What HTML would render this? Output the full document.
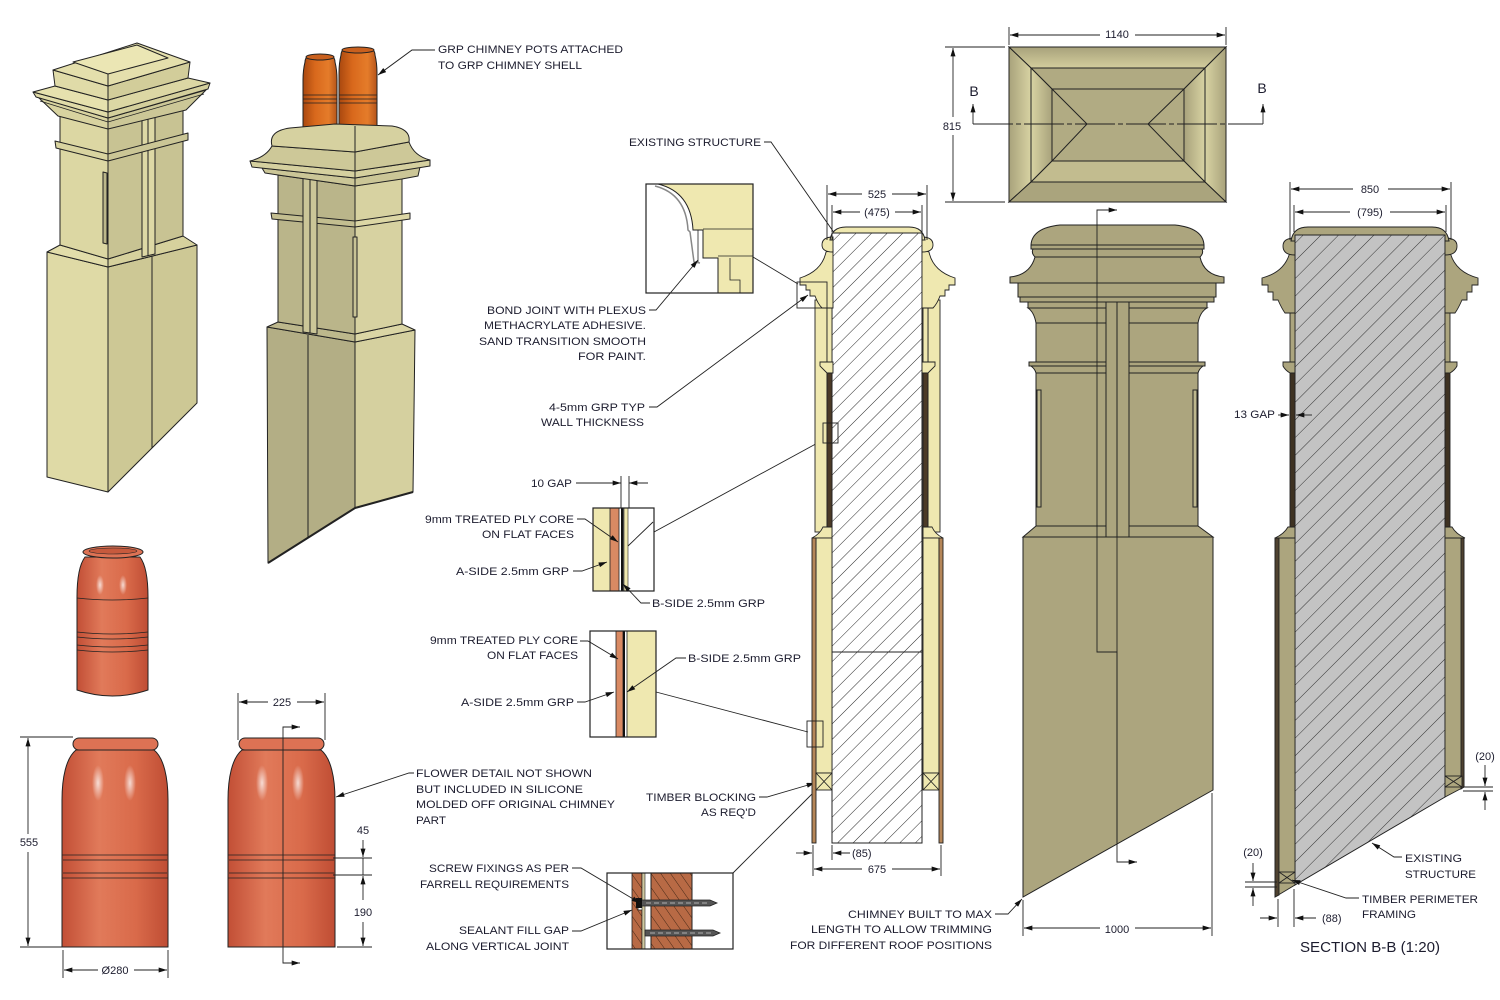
<!DOCTYPE html>
<html><head><meta charset="utf-8"><style>
html,body{margin:0;padding:0;background:#fff;}
svg{display:block;}
text{font-family:"Liberation Sans",Arial,sans-serif;font-size:11px;fill:#1c1c2e;}
.c{text-anchor:middle;}
</style></head><body>
<svg width="1500" height="1000" viewBox="0 0 1500 1000" xmlns="http://www.w3.org/2000/svg">
<defs>
<marker id="ar" viewBox="0 0 10 6" refX="10" refY="3" markerWidth="9" markerHeight="5" markerUnits="userSpaceOnUse" orient="auto-start-reverse"><path d="M0,0 L10,3 L0,6 Z" fill="#111"/></marker>
<pattern id="hA" width="11" height="11" patternUnits="userSpaceOnUse" patternTransform="rotate(45)"><line x1="0" y1="0" x2="0" y2="11" stroke="#2a2a2a" stroke-width="1"/></pattern>
<pattern id="hB" width="12.5" height="12.5" patternUnits="userSpaceOnUse" patternTransform="rotate(45)"><line x1="0" y1="0" x2="0" y2="12.5" stroke="#333" stroke-width="1"/></pattern>
<pattern id="hC" width="8" height="8" patternUnits="userSpaceOnUse" patternTransform="rotate(-35)"><line x1="0" y1="0" x2="0" y2="8" stroke="#3a2010" stroke-width="0.9"/></pattern>
<linearGradient id="pg" x1="0" x2="1" y1="0" y2="0"><stop offset="0" stop-color="#c24f36"/><stop offset="0.35" stop-color="#e17a5a"/><stop offset="0.7" stop-color="#d96a4a"/><stop offset="1" stop-color="#bf4d34"/></linearGradient>
<linearGradient id="tp" x1="0" x2="1" y1="0" y2="0"><stop offset="0" stop-color="#a9480f"/><stop offset="0.35" stop-color="#d8681c"/><stop offset="0.75" stop-color="#e57c2a"/><stop offset="1" stop-color="#b5541a"/></linearGradient>
<linearGradient id="gT" x1="0" x2="0" y1="0" y2="1"><stop offset="0" stop-color="#a8a27b"/><stop offset="1" stop-color="#d3cd9d"/></linearGradient>
<linearGradient id="gL" x1="0" x2="1" y1="0" y2="0"><stop offset="0" stop-color="#a8a27b"/><stop offset="1" stop-color="#d8d3a3"/></linearGradient>
<linearGradient id="gR" x1="0" x2="1" y1="0" y2="0"><stop offset="0" stop-color="#d8d3a3"/><stop offset="1" stop-color="#a8a27b"/></linearGradient>
<radialGradient id="hl"><stop offset="0" stop-color="#fff" stop-opacity="0.75"/><stop offset="1" stop-color="#fff" stop-opacity="0"/></radialGradient>
</defs>
<rect width="1500" height="1000" fill="#fff"/>

<!-- ============ ISO 1 ============ -->
<g stroke="#222" stroke-width="1" stroke-linejoin="round">
 <polygon points="47,252 108,267 108,492 47,477" fill="#dfdaa6"/>
 <polygon points="108,267 197,245 197,403 108,492" fill="#cdc895"/>
 <line x1="152" y1="256" x2="152" y2="448"/>
 <polygon points="60,245 108,259 108,267 47,252" fill="#e2ddaa"/>
 <polygon points="108,259 183,236 197,245 108,267" fill="#d6d19d"/>
 <polygon points="60,115 108,128 108,259 60,245" fill="#dcd7a3"/>
 <polygon points="108,128 183,108 183,236 108,259" fill="#c8c393"/>
 <polygon points="142,112 155,109 155,254 142,257" fill="#ddd8a5"/>
 <line x1="148" y1="111" x2="148" y2="256"/>
 <polygon points="103,172 107,173 107,244 103,243" fill="#bcb78a"/>
 <polygon points="55,141 108,154 108,161 56,148" fill="#d9d4a0"/>
 <polygon points="108,154 188,133 188,140 108,161" fill="#cbc696"/>
 <polygon points="38,97 108,118 108,129 58,116" fill="#d8d3a0"/>
 <polygon points="108,118 206,90 186,110 108,129" fill="#ccc797"/>
 <polygon points="33,92 108,112 108,118 36,97" fill="#e0dba8"/>
 <polygon points="108,112 210,83 208,89 108,118" fill="#d4cf9c"/>
 <polygon points="55,86 108,100 108,112 33,92" fill="#e6e1ae"/>
 <polygon points="108,100 188,78 210,83 108,112" fill="#dcd7a4"/>
 <polygon points="53,70 108,86 108,100 55,86" fill="#e0dba8"/>
 <polygon points="108,86 190,62 188,78 108,100" fill="#d2cd9a"/>
 <polygon points="53,70 137,43 190,62 108,86" fill="#e4dfac"/>
 <polygon points="73,62 137,45 168,58 108,74" fill="#ebe6b4"/>
 <line x1="108" y1="74" x2="108" y2="86"/>
 <line x1="40" y1="101" x2="108" y2="122" stroke-width="0.7"/>
 <line x1="108" y1="122" x2="204" y2="94" stroke-width="0.7"/>
</g>

<!-- ============ ISO 2 ============ -->
<g stroke="#222" stroke-width="1" stroke-linejoin="round">
 <path d="M305,62 Q305,56 312,55 L328,55 Q335,56 335,62 Q337,70 337,80 L337,130 L303,130 L303,80 Q303,70 305,62 Z" fill="url(#tp)"/>
 <ellipse cx="320" cy="57" rx="14" ry="3" fill="#c9601e"/>
 <path d="M341,55 Q341,49 348,48 L368,48 Q375,49 375,55 Q377,63 377,73 L377,130 L339,130 L339,73 Q339,63 341,55 Z" fill="url(#tp)"/>
 <ellipse cx="358" cy="50" rx="16" ry="3" fill="#c9601e"/>
 <path d="M303,95 H337 M303,99 H337 M303,103 H337 M339,95 H377 M339,99 H377 M339,103 H377" stroke-width="0.8"/>
 <polygon points="267,327 355,342 355,508 268,563" fill="#b3ae85"/>
 <polygon points="355,342 415,330 413,492 355,508" fill="#d5d09f"/>
 <polyline points="268,563 355,508 413,492" fill="none" stroke-width="2"/>
 <line x1="308" y1="335" x2="308" y2="537"/>
 <polygon points="278,322 355,334 355,342 267,327" fill="#bdb88c"/>
 <polygon points="355,334 402,324 415,330 355,342" fill="#dbd6a5"/>
 <polygon points="278,175 355,186 355,334 278,322" fill="#bab58a"/>
 <polygon points="355,186 402,178 402,324 355,334" fill="#d7d2a1"/>
 <polygon points="271,213 355,221 355,227 272,219" fill="#c3be90"/>
 <polygon points="355,221 410,213 410,219 355,227" fill="#dcd7a5"/>
 <polygon points="303,178 317,180 317,334 303,332" fill="#cbc698"/>
 <line x1="310" y1="179" x2="310" y2="333"/>
 <rect x="353" y="237" width="4" height="80" fill="#c8c395"/>
 <polygon points="262,168 355,178 420,167 418,176 402,179 355,186 278,175 265,173" fill="#cbc697"/>
 <polygon points="250,161 355,171 430,160 430,166 355,178 252,167" fill="#d5d09f"/>
 <path d="M272,146 L355,152 L409,142 Q414,156 430,160 L355,171 L250,161 Q266,157 272,146 Z" fill="#cdc898"/>
 <path d="M272,146 Q268,131 290,128 L335,124 L392,126 Q411,129 409,142 L355,152 Z" fill="#d6d1a0"/>
 <line x1="355" y1="126" x2="355" y2="186"/>
</g>
<path d="M435,50 H412 L378,75" fill="none" stroke="#222" marker-end="url(#ar)"/>
<text x="438" y="53" textLength="185" lengthAdjust="spacingAndGlyphs">GRP CHIMNEY POTS ATTACHED</text>
<text x="438" y="69" textLength="144" lengthAdjust="spacingAndGlyphs">TO GRP CHIMNEY SHELL</text>

<!-- ============ POTS ============ -->
<g stroke="#222" stroke-width="1">
 <path d="M85,557 C79,565 77,580 77,597 L77,690 Q112,702 148,690 L148,597 C148,580 146,565 140,557 Z" fill="url(#pg)"/>
 <ellipse cx="113" cy="552" rx="30" ry="6" fill="#dd7254"/>
 <ellipse cx="113" cy="551" rx="24" ry="3" fill="#c75a3d" stroke-width="0.6"/>
 <path d="M77,598 Q112,602 148,598 M77,632 Q112,636 148,632 M77,637 Q112,641 148,637 M77,645 Q112,649 148,645 M77,650 Q112,654 148,650" fill="none" stroke-width="0.8"/>
 <path d="M76,750 C66,758 62,778 62,800 L62,947 L168,947 L168,800 C168,778 164,758 154,750 Z" fill="url(#pg)"/>
 <rect x="73" y="738" width="85" height="12" rx="6" fill="#dd7254"/>
 <path d="M62,855 H168 M63,860 H167 M63,873 H167 M62,878 H168" fill="none" stroke-width="0.8"/>
 <path d="M242,750 C232,758 228,778 228,800 L228,947 L335,947 L335,800 C335,778 331,758 321,750 Z" fill="url(#pg)"/>
 <rect x="239" y="738" width="85" height="12" rx="6" fill="#dd7254"/>
 <path d="M228,855 H335 M229,860 H334 M229,873 H334 M228,878 H335" fill="none" stroke-width="0.8"/>
</g>
<ellipse cx="100" cy="585" rx="4" ry="10" fill="url(#hl)"/>
<ellipse cx="123" cy="585" rx="4" ry="10" fill="url(#hl)"/>
<ellipse cx="98" cy="783" rx="6" ry="18" fill="url(#hl)"/>
<ellipse cx="130" cy="783" rx="6" ry="18" fill="url(#hl)"/>
<ellipse cx="262" cy="783" rx="6" ry="18" fill="url(#hl)"/>
<ellipse cx="298" cy="783" rx="6" ry="18" fill="url(#hl)"/>
<g stroke="#222" stroke-width="0.9" fill="none">
 <path d="M20,737 H73 M20,947 H62"/>
 <path d="M28,834 V738" marker-end="url(#ar)"/><path d="M28,852 V946" marker-end="url(#ar)"/>
 <path d="M63,950 V978 M168,950 V978"/>
 <path d="M98,970 H64" marker-end="url(#ar)"/><path d="M134,970 H167" marker-end="url(#ar)"/>
 <path d="M238,693 V740 M325,693 V740"/>
 <path d="M268,702 H239" marker-end="url(#ar)"/><path d="M297,702 H324" marker-end="url(#ar)"/>
 <path d="M300,727 H283 V963 H300" marker-start="url(#ar)" marker-end="url(#ar)"/>
 <path d="M333,858 H372 M333,875 H372 M337,947 H372"/>
 <path d="M363,840 V857" marker-end="url(#ar)"/><path d="M363,858 V875"/>
 <path d="M363,900 V876" marker-end="url(#ar)"/><path d="M363,922 V946" marker-end="url(#ar)"/>
 <path d="M414,773 H409 L336,797" marker-end="url(#ar)"/>
</g>
<text class="c" x="29" y="846">555</text>
<text class="c" x="115" y="974">Ø280</text>
<text class="c" x="282" y="706">225</text>
<text class="c" x="363" y="834">45</text>
<text class="c" x="363" y="916">190</text>
<text x="416" y="777" textLength="176" lengthAdjust="spacingAndGlyphs">FLOWER DETAIL NOT SHOWN</text>
<text x="416" y="793" textLength="167" lengthAdjust="spacingAndGlyphs">BUT INCLUDED IN SILICONE</text>
<text x="416" y="808" textLength="199" lengthAdjust="spacingAndGlyphs">MOLDED OFF ORIGINAL CHIMNEY</text>
<text x="416" y="824" textLength="30" lengthAdjust="spacingAndGlyphs">PART</text>

<!-- ============ DETAIL BOXES ============ -->
<g stroke="#222" stroke-width="1">
 <rect x="646" y="184" width="107" height="109" fill="#fff"/>
 <path d="M658,184 H753 V293 H718 V258 H703 V230 H693 Q691,192 658,184 Z" fill="#efe8b0"/>
 <path d="M655,186 Q686,194 688,230 L690,232 L694,262 L700,263" fill="none" stroke="#888" stroke-width="1.5"/>
 <path d="M703,229 H753 M718,256 H753 M730,258 V280 H740 V293 M698,230 V262" fill="none" stroke-width="0.8"/>
 <rect x="646" y="184" width="107" height="109" fill="none" stroke-width="1.2"/>

 <rect x="593" y="508" width="61" height="83" fill="#fff"/>
 <rect x="593" y="508" width="17" height="83" fill="#efe8b0" stroke="none"/>
 <rect x="610" y="508" width="9" height="83" fill="#d98a63" stroke-width="0.8"/>
 <rect x="621" y="508" width="2.5" height="83" fill="#111" stroke="none"/>
 <rect x="624" y="508" width="4" height="83" fill="#efe8b0" stroke-width="0.6"/>
 <rect x="593" y="508" width="61" height="83" fill="none" stroke-width="1.2"/>

 <rect x="590" y="631" width="66" height="106" fill="#fff"/>
 <rect x="616" y="631" width="7" height="106" fill="#d98a63" stroke-width="0.8"/>
 <rect x="623" y="631" width="2" height="106" fill="#111" stroke="none"/>
 <rect x="627" y="631" width="29" height="106" fill="#efe8b0" stroke-width="0.8"/>
 <rect x="590" y="631" width="66" height="106" fill="none" stroke-width="1.2"/>

 <rect x="607" y="873" width="126" height="76" fill="#fff"/>
 <path d="M632,873 H642 V906 H638 V910 H642 V949 H632 Z" fill="#b86a45" stroke-width="0.8"/>
 <path d="M632,873 H642 V906 H638 V910 H642 V949 H632 Z" fill="url(#hC)" stroke="none"/>
 <rect x="642" y="873" width="3" height="76" fill="#cfc9a0" stroke-width="0.6"/>
 <rect x="651" y="873" width="41" height="76" fill="#b86a45"/>
 <rect x="651" y="873" width="41" height="76" fill="url(#hC)" stroke="none"/>
 <path d="M641,900 H710 L717,903 L710,906 H641 Z" fill="#555" stroke-width="0.8"/>
 <path d="M645,930 H713 L720,933 L713,936 H645 Z" fill="#555" stroke-width="0.8"/>
 <path d="M646,903 H708 M650,933 H711" stroke="#ccc" stroke-dasharray="5,3" stroke-width="0.8"/>
 <rect x="636" y="898" width="6" height="10" fill="#111" stroke="none"/>
 <rect x="607" y="873" width="126" height="76" fill="none" stroke-width="1.2"/>
</g>
<g stroke="#222" stroke-width="0.9" fill="none">
 <path d="M649,310 H656 L698,260" marker-end="url(#ar)"/>
 <path d="M753,257 L798,284"/>
 <path d="M649,407 H657 L808,295" marker-end="url(#ar)"/>
 <path d="M576,483 H621" marker-end="url(#ar)"/><path d="M648,483 H629" marker-end="url(#ar)"/>
 <path d="M621,476 V508 M629,476 V508"/>
 <path d="M577,519 H585 L618,542" marker-end="url(#ar)"/>
 <path d="M573,571 H582 L607,562" marker-end="url(#ar)"/>
 <path d="M650,603 H641 L623,584" marker-end="url(#ar)"/>
 <path d="M654,532 L823,440 M653,522 L628,546"/>
 <path d="M580,641 H588 L618,659" marker-end="url(#ar)"/>
 <path d="M577,702 H585 L614,692" marker-end="url(#ar)"/>
 <path d="M686,658 H676 L627,692" marker-end="url(#ar)"/>
 <path d="M656,692 L808,732"/>
 <path d="M759,797 H767 L815,783" marker-end="url(#ar)"/>
 <path d="M733,873 L813,793"/>
 <path d="M572,868 H581 L640,903" marker-end="url(#ar)"/>
 <path d="M572,931 H581 L632,910" marker-end="url(#ar)"/>
 <path d="M764,142 H771 L860,270" marker-end="url(#ar)"/>
</g>
<text x="629" y="146" textLength="132" lengthAdjust="spacingAndGlyphs">EXISTING STRUCTURE</text>
<text x="487" y="314" textLength="159" lengthAdjust="spacingAndGlyphs">BOND JOINT WITH PLEXUS</text>
<text x="484" y="329" textLength="162" lengthAdjust="spacingAndGlyphs">METHACRYLATE ADHESIVE.</text>
<text x="479" y="345" textLength="167" lengthAdjust="spacingAndGlyphs">SAND TRANSITION SMOOTH</text>
<text x="578" y="360" textLength="68" lengthAdjust="spacingAndGlyphs">FOR PAINT.</text>
<text x="549" y="411" textLength="96" lengthAdjust="spacingAndGlyphs">4-5mm GRP TYP</text>
<text x="541" y="426" textLength="103" lengthAdjust="spacingAndGlyphs">WALL THICKNESS</text>
<text x="531" y="487" textLength="41" lengthAdjust="spacingAndGlyphs">10 GAP</text>
<text x="425" y="523" textLength="149" lengthAdjust="spacingAndGlyphs">9mm TREATED PLY CORE</text>
<text x="482" y="538" textLength="92" lengthAdjust="spacingAndGlyphs">ON FLAT FACES</text>
<text x="456" y="575" textLength="113" lengthAdjust="spacingAndGlyphs">A-SIDE 2.5mm GRP</text>
<text x="652" y="607" textLength="113" lengthAdjust="spacingAndGlyphs">B-SIDE 2.5mm GRP</text>
<text x="430" y="644" textLength="148" lengthAdjust="spacingAndGlyphs">9mm TREATED PLY CORE</text>
<text x="487" y="659" textLength="91" lengthAdjust="spacingAndGlyphs">ON FLAT FACES</text>
<text x="688" y="662" textLength="113" lengthAdjust="spacingAndGlyphs">B-SIDE 2.5mm GRP</text>
<text x="461" y="706" textLength="113" lengthAdjust="spacingAndGlyphs">A-SIDE 2.5mm GRP</text>
<text x="646" y="801" textLength="110" lengthAdjust="spacingAndGlyphs">TIMBER BLOCKING</text>
<text x="701" y="816" textLength="55" lengthAdjust="spacingAndGlyphs">AS REQ'D</text>
<text x="429" y="872" textLength="140" lengthAdjust="spacingAndGlyphs">SCREW FIXINGS AS PER</text>
<text x="420" y="888" textLength="149" lengthAdjust="spacingAndGlyphs">FARRELL REQUIREMENTS</text>
<text x="459" y="934" textLength="110" lengthAdjust="spacingAndGlyphs">SEALANT FILL GAP</text>
<text x="426" y="950" textLength="143" lengthAdjust="spacingAndGlyphs">ALONG VERTICAL JOINT</text>

<!-- ============ SECTION A ============ -->
<rect x="832" y="233" width="90" height="610" fill="#fff"/>
<rect x="832" y="233" width="90" height="610" fill="url(#hA)" stroke="#222"/>
<line x1="832" y1="652" x2="922" y2="652" stroke="#222"/>
<g id="secAL" stroke="#222" stroke-width="0.9">
 <rect x="815" y="300" width="12" height="232" fill="#efe8b0"/>
 <rect x="827" y="300" width="5" height="73" fill="#efe8b0"/>
 <rect x="827" y="373" width="5" height="155" fill="#4b3a26"/>
 <path d="M820,362 H833 V373 H827 Q823,369 820,366 Z" fill="#efe8b0"/>
 <path d="M823,527 H832 V538 H812 Q820,534 823,527 Z" fill="#efe8b0"/>
 <rect x="816" y="538" width="16" height="235" fill="#efe8b0"/>
 <rect x="812" y="538" width="4" height="305" fill="#b58658"/>
 <rect x="816" y="773" width="16" height="17" fill="#efe8b0"/>
 <path d="M816,773 L832,790 M832,773 L816,790" fill="none"/>
 <path d="M833,250 L826,252 Q822,271 800,278 V285 H806 V290 H810 V296 H815 Q818,304 822,308 H833 Z" fill="#efe8b0"/>
 <path d="M833,237 Q822,237 822,245 Q822,252 833,252 Z" fill="#efe8b0"/>
</g>
<use href="#secAL" transform="translate(1755,0) scale(-1,1)"/>
<path d="M830,240 Q832,227 846,227 H909 Q923,227 925,240 H922 V233 H832 V240 Z" fill="#efe8b0" stroke="#222"/>
<g stroke="#222" stroke-width="0.9" fill="none">
 <rect x="797" y="282" width="30" height="26"/>
 <rect x="823" y="423" width="15" height="20"/>
 <rect x="807" y="721" width="16" height="26"/>
 <path d="M827,185 V240 M927,185 V240 M832,205 V232 M922,205 V232"/>
 <path d="M862,194 H828" marker-end="url(#ar)"/><path d="M892,194 H926" marker-end="url(#ar)"/>
 <path d="M860,212 H833" marker-end="url(#ar)"/><path d="M895,212 H921" marker-end="url(#ar)"/>
 <path d="M813,845 V876 M832,845 V860 M941,845 V876"/>
 <path d="M796,853 H812" marker-end="url(#ar)"/><path d="M850,853 H833" marker-end="url(#ar)"/>
 <path d="M862,869 H814" marker-end="url(#ar)"/><path d="M892,869 H940" marker-end="url(#ar)"/>
</g>
<text class="c" x="877" y="198">525</text>
<text class="c" x="877" y="216">(475)</text>
<text x="852" y="857">(85)</text>
<text class="c" x="877" y="873">675</text>

<!-- ============ PLAN ============ -->
<g stroke="#222" stroke-width="1">
 <rect x="1009" y="47" width="217" height="155" fill="#aca57e"/>
 <polygon points="1009,47 1226,47 1205,68 1031,68" fill="url(#gT)"/>
 <polygon points="1009,47 1031,68 1031,182 1009,202" fill="url(#gL)"/>
 <polygon points="1226,47 1205,68 1205,182 1226,202" fill="url(#gR)"/>
 <polygon points="1009,202 1031,182 1205,182 1226,202" fill="#aaa47d"/>
 <rect x="1031" y="68" width="174" height="114" fill="#b7b188"/>
 <polygon points="1031,68 1205,68 1184,89 1052,89" fill="#b0aa82"/>
 <polygon points="1031,68 1052,89 1052,161 1031,182" fill="url(#gR)"/>
 <polygon points="1205,68 1184,89 1184,161 1205,182" fill="url(#gL)"/>
 <polygon points="1031,182 1052,161 1184,161 1205,182" fill="#c2bc8f"/>
 <rect x="1052" y="89" width="132" height="72" fill="#b1ab83"/>
 <path d="M1052,89 L1087,124 L1052,161 M1184,89 L1148,124 L1184,161" fill="none"/>
</g>
<g stroke="#222" stroke-width="0.9" fill="none">
 <path d="M1009,27 V45 M1226,27 V45"/>
 <path d="M1100,35 H1010" marker-end="url(#ar)"/><path d="M1135,35 H1225" marker-end="url(#ar)"/>
 <path d="M945,47 H1005 M945,202 H1005"/>
 <path d="M953,117 V48" marker-end="url(#ar)"/><path d="M953,135 V201" marker-end="url(#ar)"/>
 <path d="M973,124 H1263" stroke-dasharray="40,3,5,3"/>
 <path d="M973,124 V104" marker-end="url(#ar)"/><path d="M1263,124 V104" marker-end="url(#ar)"/>
</g>
<text class="c" x="1117" y="38">1140</text>
<text class="c" x="952" y="130">815</text>
<text class="c" x="974" y="96" style="font-size:14px">B</text>
<text class="c" x="1262" y="93" style="font-size:14px">B</text>

<!-- ============ FRONT ELEVATION ============ -->
<g stroke="#222" stroke-width="1" fill="#aca57e">
 <path d="M1023,537 H1213 V790 L1023,897 Z"/>
 <path d="M1036,526 H1198 L1213,537 H1023 Z"/>
 <rect x="1036" y="373" width="162" height="153"/>
 <rect x="1037" y="390" width="4" height="117" fill="#bdb78d"/>
 <rect x="1193" y="390" width="4" height="117" fill="#bdb78d"/>
 <path d="M1031,366 H1203 Q1199,369 1198,373 H1036 Q1035,369 1031,366 Z"/>
 <rect x="1029" y="362" width="176" height="4"/>
 <rect x="1036" y="323" width="162" height="39"/>
 <path d="M1028,308 H1207 Q1200,312 1198,323 H1036 Q1034,312 1028,308 Z"/>
 <rect x="1028" y="302" width="179" height="6"/>
 <rect x="1020" y="297" width="194" height="5"/>
 <rect x="1018" y="283" width="198" height="14"/>
 <path d="M1035,257 H1200 Q1204,275 1224,277 V283 H1010 V277 Q1030,275 1035,257 Z"/>
 <path d="M1033,249 H1202 Q1204,253 1200,257 H1035 Q1031,253 1033,249 Z"/>
 <rect x="1031" y="245" width="173" height="4"/>
 <path d="M1031,245 Q1032,228 1060,225 H1175 Q1203,228 1204,245 Z"/>
 <rect x="1106" y="302" width="11" height="235"/>
 <rect x="1117" y="302" width="12" height="235"/>
</g>
<g stroke="#222" stroke-width="0.9" fill="none">
 <path d="M1117,537 V843"/>
 <path d="M1117,210 H1097 V652 H1117 V862 H1137" marker-start="url(#ar)" marker-end="url(#ar)"/>
 <path d="M1023,900 V936 M1212,793 V936"/>
 <path d="M1100,928 H1024" marker-end="url(#ar)"/><path d="M1135,928 H1211" marker-end="url(#ar)"/>
 <path d="M995,914 H1008 L1022,899" marker-end="url(#ar)"/>
</g>
<text class="c" x="1117" y="933">1000</text>
<text x="848" y="918" textLength="144" lengthAdjust="spacingAndGlyphs">CHIMNEY BUILT TO MAX</text>
<text x="811" y="933" textLength="181" lengthAdjust="spacingAndGlyphs">LENGTH TO ALLOW TRIMMING</text>
<text x="790" y="949" textLength="202" lengthAdjust="spacingAndGlyphs">FOR DIFFERENT ROOF POSITIONS</text>

<!-- ============ SECTION B-B ============ -->
<path d="M1295,235 H1445 V797 L1295,885 Z" fill="#c3c3c3"/>
<path d="M1295,235 H1445 V797 L1295,885 Z" fill="url(#hB)" stroke="#222"/>
<g id="secBL" stroke="#222" stroke-width="0.9">
 <rect x="1290" y="300" width="5" height="62" fill="#aca57e"/>
 <rect x="1290" y="373" width="5" height="155" fill="#3e3222"/>
 <path d="M1283,362 H1295 V373 H1290 Q1285,370 1283,366 Z" fill="#aca57e"/>
 <path d="M1288,527 H1295 V538 H1275 Q1284,534 1288,527 Z" fill="#aca57e"/>
 <path d="M1295,250 L1290,252 Q1285,272 1262,278 V285 H1268 V292 H1273 V300 H1278 Q1282,309 1285,313 H1295 Z" fill="#aca57e"/>
 <path d="M1295,238 Q1283,238 1283,246 Q1283,255 1295,255 Z" fill="#aca57e"/>
</g>
<use href="#secBL" transform="translate(2740,0) scale(-1,1)"/>
<path d="M1291,241 Q1293,227 1308,227 H1432 Q1447,227 1449,241 H1445 V235 H1295 V241 Z" fill="#aca57e" stroke="#222"/>
<g stroke="#222" stroke-width="0.9">
 <path d="M1275,538 H1295 V885 L1275,897 Z" fill="#aca57e"/>
 <path d="M1275,538 H1279 V895 L1275,897 Z" fill="#4f4230"/>
 <path d="M1445,538 H1464 V787 L1445,797 Z" fill="#aca57e"/>
 <path d="M1461,538 H1464 V787 L1461,789 Z" fill="#4f4230"/>
 <rect x="1279" y="872" width="16" height="11" fill="#aca57e"/>
 <path d="M1279,872 L1295,883 M1295,872 L1279,883" fill="none"/>
 <rect x="1445" y="776" width="17" height="11" fill="#aca57e"/>
 <path d="M1445,776 L1462,787 M1462,776 L1445,787" fill="none"/>
</g>
<g stroke="#222" stroke-width="0.9" fill="none">
 <path d="M1290,182 V240 M1451,182 V240 M1294,205 V232 M1446,205 V232"/>
 <path d="M1353,189 H1291" marker-end="url(#ar)"/><path d="M1388,189 H1450" marker-end="url(#ar)"/>
 <path d="M1350,212 H1295" marker-end="url(#ar)"/><path d="M1390,212 H1445" marker-end="url(#ar)"/>
 <path d="M1278,415 H1289" marker-end="url(#ar)"/><path d="M1312,415 H1296" marker-end="url(#ar)"/>
 <path d="M1463,787 H1493 M1463,791 H1493"/>
 <path d="M1485,765 V786" marker-end="url(#ar)"/><path d="M1485,810 V792" marker-end="url(#ar)"/>
 <path d="M1245,882 H1277 M1245,887 H1277"/>
 <path d="M1253,863 V881" marker-end="url(#ar)"/><path d="M1253,906 V888" marker-end="url(#ar)"/>
 <path d="M1278,899 V927 M1294,889 V927"/>
 <path d="M1260,918 H1277" marker-end="url(#ar)"/><path d="M1316,918 H1295" marker-end="url(#ar)"/>
 <path d="M1402,857 H1394 L1372,843" marker-end="url(#ar)"/>
 <path d="M1359,898 H1346 L1292,880" marker-end="url(#ar)"/>
</g>
<text class="c" x="1370" y="193">850</text>
<text class="c" x="1370" y="216">(795)</text>
<text x="1234" y="418" textLength="41" lengthAdjust="spacingAndGlyphs">13 GAP</text>
<text class="c" x="1485" y="760">(20)</text>
<text class="c" x="1253" y="856">(20)</text>
<text x="1322" y="922">(88)</text>
<text x="1405" y="862" textLength="57" lengthAdjust="spacingAndGlyphs">EXISTING</text>
<text x="1405" y="878" textLength="71" lengthAdjust="spacingAndGlyphs">STRUCTURE</text>
<text x="1362" y="903" textLength="116" lengthAdjust="spacingAndGlyphs">TIMBER PERIMETER</text>
<text x="1362" y="918" textLength="54" lengthAdjust="spacingAndGlyphs">FRAMING</text>
<text x="1300" y="952" textLength="140" lengthAdjust="spacingAndGlyphs" style="font-size:14.5px">SECTION B-B (1:20)</text>
</svg>
</body></html>
